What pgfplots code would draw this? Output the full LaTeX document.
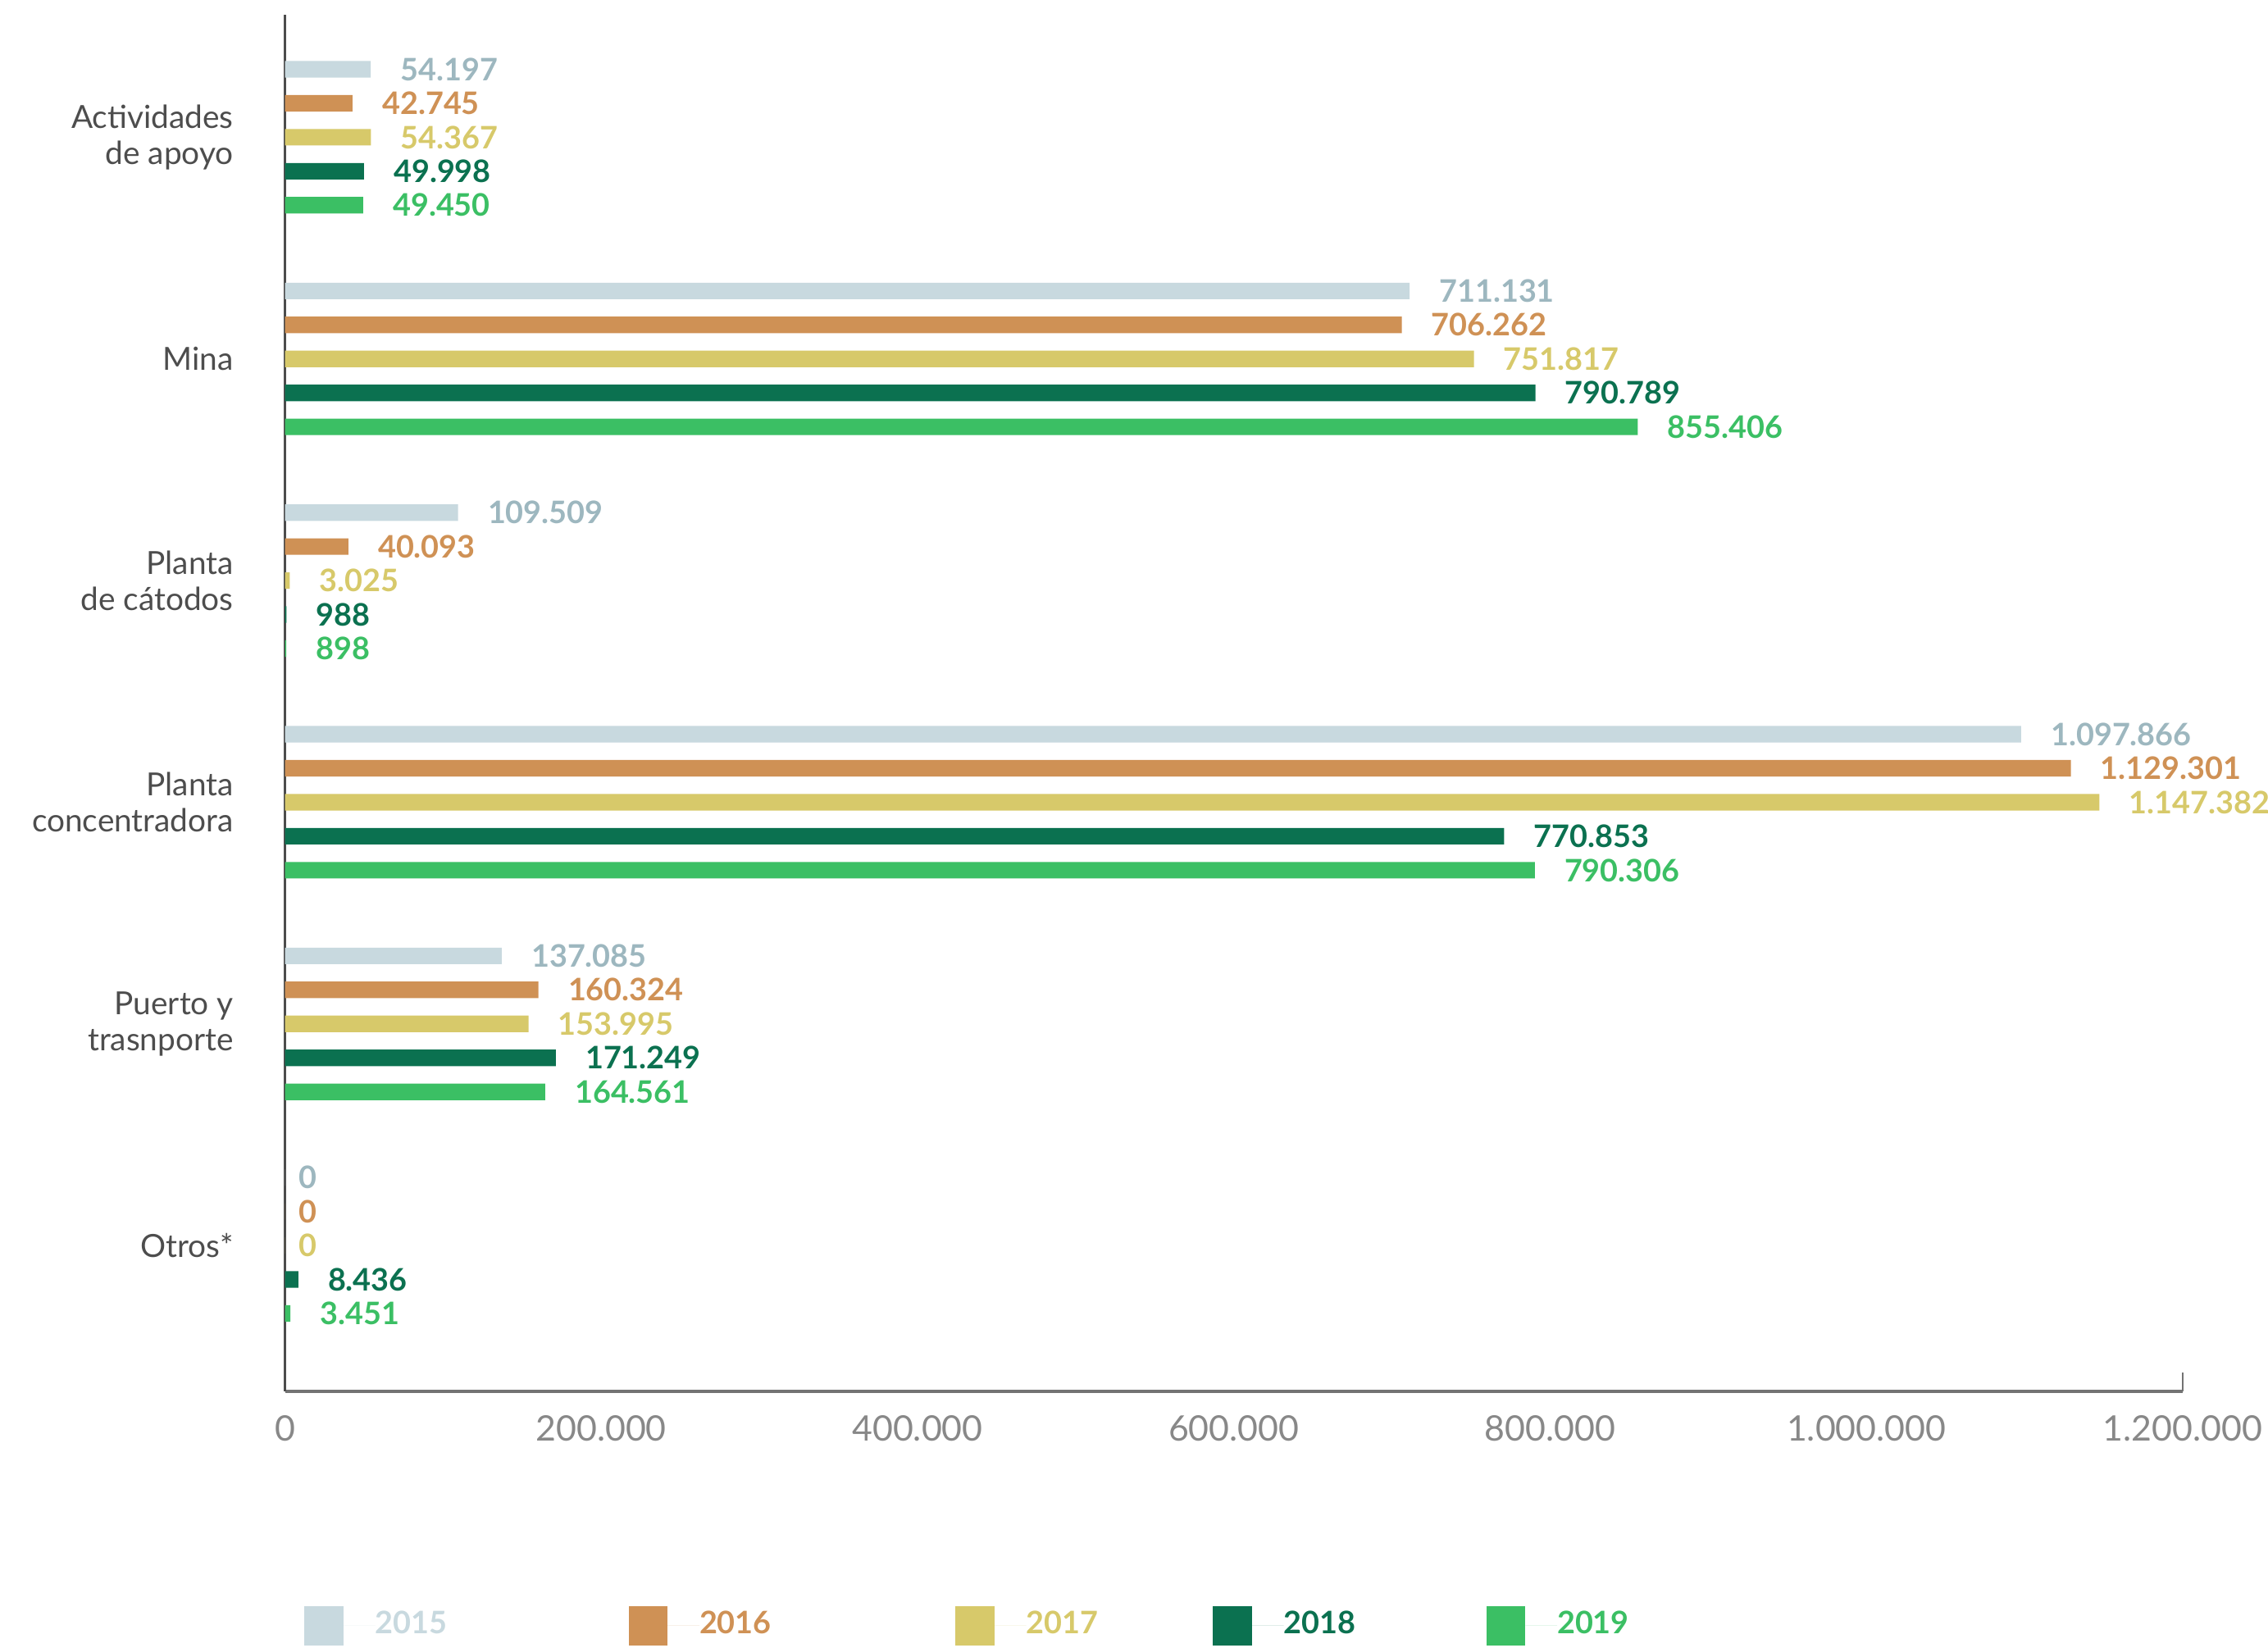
\documentclass[border=0pt]{standalone}
\usepackage{fontspec}
\setmainfont{Lato}
\usepackage{pgfplots}
\pgfplotsset{compat=1.18}
\pgfkeys{/pgf/number format/.cd, assume math mode=true, fixed, precision=0, 1000 sep={.}}
\definecolor{c15}{HTML}{C8D9DF}
\definecolor{l15}{HTML}{9DB7BF}
\definecolor{c16}{HTML}{CF9155}
\definecolor{c17}{HTML}{D7C96A}
\definecolor{c18}{HTML}{0B7150}
\definecolor{c19}{HTML}{3BBF64}
\definecolor{catgray}{HTML}{4D4D4D}
\definecolor{tickgray}{HTML}{888888}
\begin{document}
\begin{tikzpicture}
\useasboundingbox (-68.95pt,-61.95pt) rectangle (479.85pt,336.7pt);
\begin{axis}[
  at={(0,0)}, anchor=south west,
  scale only axis, width=459.2pt, height=333.2pt,
  xbar, bar width=4pt,
  xmin=0, xmax=1200000,
  ymin=-0.658, ymax=5.554,
  clip=false,
  axis x line*=bottom, axis y line*=left,
  x axis line style={draw=black!55, line width=0.8pt},
  y axis line style={draw=black!70, line width=0.45pt},
  major tick length=0pt,
  xtick={0,200000,400000,600000,800000,1000000,1200000},
  scaled x ticks=false,
  xticklabel style={font=\fontsize{8.5}{10}\selectfont, text=tickgray, inner sep=0pt, anchor=north, yshift=-5.7pt},
  extra x ticks={1200000}, extra x tick labels={},
  extra x tick style={major tick length=4.5pt, tick align=inside, tick style={draw=black!55, line width=0.5pt}},
  ytick={0,1,2,3,4,5},
  yticklabels={{Otros*},{Puerto y\\trasnporte},{Planta\\concentradora},{Planta\\de cátodos},{Mina},{Actividades\\de apoyo}},
  yticklabel style={font=\fontsize{7.7}{8.75}\selectfont, text=catgray, align=right, inner sep=0pt, anchor=east, xshift=-12.25pt},
  nodes near coords={\pgfmathfloatifflags{\pgfplotspointmeta}{0}{\hspace*{-4.5pt}}{}\pgfmathprintnumber{\pgfplotspointmeta}},
  point meta=x,
  every node near coord/.append style={anchor=west, inner sep=0pt, xshift=7pt, font=\fontsize{7.5}{9}\selectfont\bfseries},
  legend columns=5,
  legend image code/.code={\fill[#1] (0pt,-4.725pt) rectangle (9.45pt,4.725pt); \path (9.45pt,0pt) -- (17.15pt,0pt);},
  legend style={at={(axis description cs:0,0)}, anchor=west, xshift=4.55pt, yshift=-56.7pt,
    draw=none, inner sep=0pt, column sep=0pt, row sep=0pt,
    nodes={inner sep=0pt, font=\fontsize{7.5}{9}\selectfont\bfseries}},
]
\addplot[fill=c15, draw=none, bar shift=16.45pt, nodes near coords style={text=l15}] coordinates {
 (54197,5) (711131,4) (109509,3) (1097866,2) (137085,1) (0,0)};
\addlegendentry{\makebox[61.25pt][l]{\textcolor{c15}{2015}}}
\addplot[fill=c16, draw=none, bar shift=8.225pt, nodes near coords style={text=c16}] coordinates {
 (42745,5) (706262,4) (40093,3) (1129301,2) (160324,1) (0,0)};
\addlegendentry{\makebox[61.95pt][l]{\textcolor{c16}{2016}}}
\addplot[fill=c17, draw=none, bar shift=0pt, nodes near coords style={text=c17}] coordinates {
 (54367,5) (751817,4) (3025,3) (1147382,2) (153995,1) (0,0)};
\addlegendentry{\makebox[45.15pt][l]{\textcolor{c17}{2017}}}
\addplot[fill=c18, draw=none, bar shift=-8.225pt, nodes near coords style={text=c18}] coordinates {
 (49998,5) (790789,4) (988,3) (770853,2) (171249,1) (8436,0)};
\addlegendentry{\makebox[49pt][l]{\textcolor{c18}{2018}}}
\addplot[fill=c19, draw=none, bar shift=-16.45pt, nodes near coords style={text=c19}] coordinates {
 (49450,5) (855406,4) (898,3) (790306,2) (164561,1) (3451,0)};
\addlegendentry{\textcolor{c19}{2019}}
\end{axis}
\end{tikzpicture}
\end{document}
